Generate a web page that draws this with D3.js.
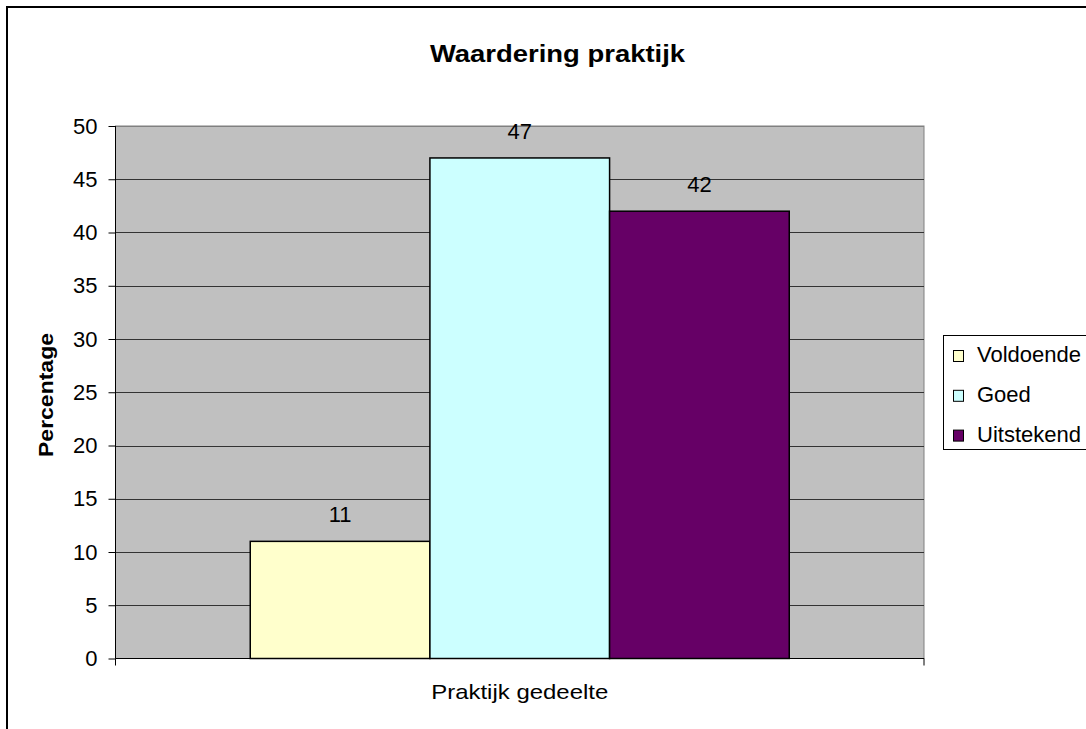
<!DOCTYPE html>
<html>
<head>
<meta charset="utf-8">
<script src="https://cdn.jsdelivr.net/npm/d3@7"></script>
<style>
  body { margin: 0; background: #fff; }
  text { font-family: Arial, "Liberation Sans", sans-serif; fill: #000; }
</style>
</head>
<body>
<div class="chart"></div>
<script>
var series = ['Voldoende', 'Goed', 'Uitstekend'];
var values = [11, 47, 42];
var colors = ['#ffffcc', '#ccffff', '#660066'];
var category = 'Praktijk gedeelte';
var yTicks = [0, 5, 10, 15, 20, 25, 30, 35, 40, 45, 50];

var W = 1086, H = 729;
var plot = { left: 115.5, right: 924, top: 126, bottom: 658.5 };

var svg = d3.select('.chart')
  .append('svg')
    .attr('width', W)
    .attr('height', H);

// outer chart border (runs off the right and bottom)
svg.append('rect')
  .attr('x', 7).attr('y', 7)
  .attr('width', W + 20).attr('height', H + 20)
  .attr('fill', '#fff')
  .attr('stroke', '#000')
  .attr('stroke-width', 2);

var y = d3.scaleLinear().domain([0, 50]).range([plot.bottom, plot.top]);

// one category, bars fill 3/4.5 of the band (gap width 150%)
var x0 = d3.scaleBand().domain([category]).range([plot.left, plot.right]);
var groupW = x0.bandwidth() * 3 / 4.5;
var x1 = d3.scaleBand().domain(series)
  .range([x0(category) + (x0.bandwidth() - groupW) / 2, x0(category) + (x0.bandwidth() + groupW) / 2]);

// plot background
svg.append('rect')
  .attr('x', plot.left).attr('y', plot.top)
  .attr('width', plot.right - plot.left).attr('height', plot.bottom - plot.top)
  .attr('fill', '#c0c0c0')
  .attr('stroke', '#808080')
  .attr('stroke-width', 1);

// gridlines
svg.append('g')
  .selectAll('line')
  .data(yTicks.filter(d => d > 0))
  .enter()
    .append('line')
    .attr('x1', plot.left).attr('x2', plot.right)
    .attr('y1', d => Math.round(y(d)) + 0.5)
    .attr('y2', d => Math.round(y(d)) + 0.5)
    .attr('stroke', d => d === 50 ? '#808080' : '#333')
    .attr('stroke-width', 1);

// bars
svg.append('g')
  .selectAll('rect')
  .data(values)
  .enter()
    .append('rect')
    .attr('x', (d, i) => x1(series[i]))
    .attr('y', d => y(d))
    .attr('width', x1.bandwidth())
    .attr('height', d => y(0) - y(d))
    .attr('fill', (d, i) => colors[i])
    .attr('stroke', '#000')
    .attr('stroke-width', 1.5);

// value labels
svg.append('g')
  .selectAll('text')
  .data(values)
  .enter()
    .append('text')
    .attr('x', (d, i) => x1(series[i]) + x1.bandwidth() / 2)
    .attr('y', d => y(d) - 19)
    .attr('text-anchor', 'middle')
    .style('font-size', '22px')
    .text(d => d);

// y axis
var yAxis = svg.append('g')
  .attr('transform', 'translate(' + plot.left + ',0)')
  .call(d3.axisLeft(y).tickValues(yTicks).tickSize(7).tickPadding(11));
yAxis.select('.domain').attr('stroke', '#000').attr('d', 'M0,' + plot.top + 'V' + plot.bottom);
yAxis.selectAll('line').attr('stroke', '#000');
yAxis.selectAll('text')
  .style('font-family', 'Arial, "Liberation Sans", sans-serif')
  .style('font-size', '22px')
  .attr('fill', '#000');

// x axis
var xAxis = svg.append('g');
xAxis.append('line')
  .attr('x1', plot.left).attr('x2', plot.right)
  .attr('y1', plot.bottom).attr('y2', plot.bottom)
  .attr('stroke', '#000');
xAxis.selectAll('line.tick')
  .data([plot.left, plot.right])
  .enter()
    .append('line')
    .attr('class', 'tick')
    .attr('x1', d => d).attr('x2', d => d)
    .attr('y1', plot.bottom).attr('y2', plot.bottom + 7)
    .attr('stroke', '#000');
xAxis.append('text')
  .attr('x', x0(category) + x0.bandwidth() / 2)
  .attr('y', 699)
  .attr('text-anchor', 'middle')
  .attr('textLength', 177)
  .attr('lengthAdjust', 'spacingAndGlyphs')
  .style('font-size', '21px')
  .text(category);

// titles
svg.append('text')
  .attr('x', 557.5).attr('y', 62)
  .attr('text-anchor', 'middle')
  .attr('textLength', 255)
  .attr('lengthAdjust', 'spacingAndGlyphs')
  .style('font-size', '24px')
  .style('font-weight', 'bold')
  .text('Waardering praktijk');

svg.append('text')
  .attr('transform', 'translate(53,395) rotate(-90)')
  .attr('text-anchor', 'middle')
  .attr('textLength', 124)
  .attr('lengthAdjust', 'spacingAndGlyphs')
  .style('font-size', '21px')
  .style('font-weight', 'bold')
  .text('Percentage');

// legend
var legend = svg.append('g');
legend.append('rect')
  .attr('x', 943.5).attr('y', 335.5)
  .attr('width', 160).attr('height', 114)
  .attr('fill', '#fff')
  .attr('stroke', '#000');

var item = legend.selectAll('g.item')
  .data(series)
  .enter()
    .append('g')
    .attr('class', 'item')
    .attr('transform', (d, i) => 'translate(0,' + (362 + i * 39.8) + ')');

item.append('rect')
  .attr('x', 953.5).attr('y', -11.5)
  .attr('width', 10).attr('height', 11)
  .attr('fill', (d, i) => colors[i])
  .attr('stroke', '#000');

item.append('text')
  .attr('x', 977)
  .attr('y', 0)
  .style('font-size', '22px')
  .text(d => d);
</script>
</body>
</html>
